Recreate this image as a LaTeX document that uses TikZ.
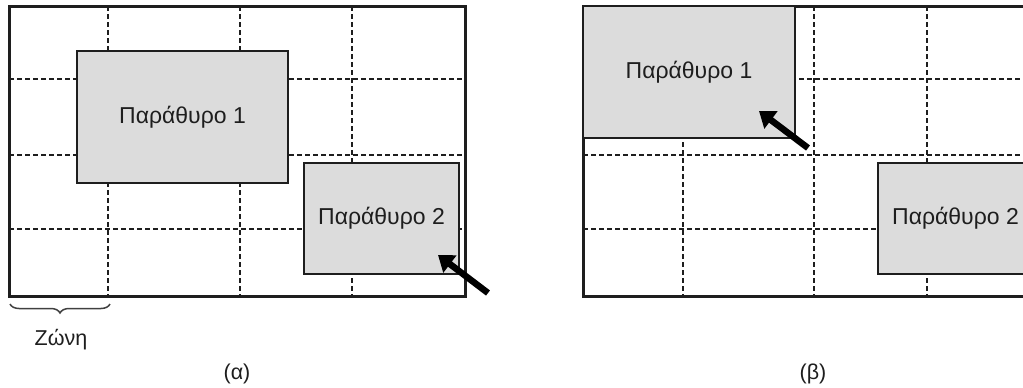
\documentclass[tikz,border=0pt]{standalone}
\usepackage{fontspec}
\setmainfont{Liberation Sans}
\usetikzlibrary{arrows.meta,decorations.pathreplacing}
\definecolor{ink}{HTML}{1E1E1E}
\definecolor{winfill}{HTML}{DCDCDC}
\tikzset{
  outer/.style={draw=ink, line width=3pt},
  gridline/.style={draw=ink, line width=2.4pt, dash pattern=on 4.5pt off 3.5pt},
  win/.style={draw=ink, line width=2.8pt, fill=winfill, inner sep=0pt,
    font=\fontsize{23}{26}\selectfont, text=ink},
  bigarrow/.style={draw=black, line width=6.5pt, -{Triangle[length=15pt,width=21pt]}},
  lbl/.style={font=\fontsize{21.5}{24}\selectfont, text=ink, inner sep=0pt},
}
\begin{document}
\begin{tikzpicture}[x=1pt,y=-1pt]
\useasboundingbox (0,0) rectangle (1023,388);
\clip (0,0) rectangle (1023,388);
% ---------- panel (a) ----------
\foreach \x in {108,240,352} \draw[gridline] (\x,6) -- (\x,296);
\foreach \y in {79,155,229} \draw[gridline] (9,\y) -- (465,\y);
\draw[outer] (9,6) rectangle (465,296);
\node[win, minimum width=211pt, minimum height=132pt] (a1) at (182.5,117) {Παράθυρο 1};
\node[win, minimum width=155pt, minimum height=111pt] (a2) at (381.5,218.5) {Παράθυρο 2};
\coordinate (aas) at (488,293);
\coordinate (aae) at (438,255);
\draw[bigarrow] (aas) -- (aae);
\draw[draw=ink!85, line width=1.5pt, decorate, decoration={brace, mirror, amplitude=9pt}] (10,304) -- (110,304);
\node[lbl] (zone) at (61,340) {Ζώνη};
\node[lbl] (capa) at (237,374) {(α)};
% ---------- panel (b) ----------
\foreach \x in {683,814,927} \draw[gridline] (\x,6) -- (\x,296);
\foreach \y in {79,155,229} \draw[gridline] (583,\y) -- (1039,\y);
\draw[outer] (583,6) rectangle (1039,296);
\node[win, minimum width=212pt, minimum height=132pt] (b1) at (689,72) {Παράθυρο 1};
\node[win, minimum width=155pt, minimum height=111pt] (b2) at (955.5,218.5) {Παράθυρο 2};
\coordinate (bas) at (808,148);
\coordinate (bae) at (759,111);
\draw[bigarrow] (bas) -- (bae);
\node[lbl] (capb) at (813,374) {(β)};
\end{tikzpicture}
\end{document}
